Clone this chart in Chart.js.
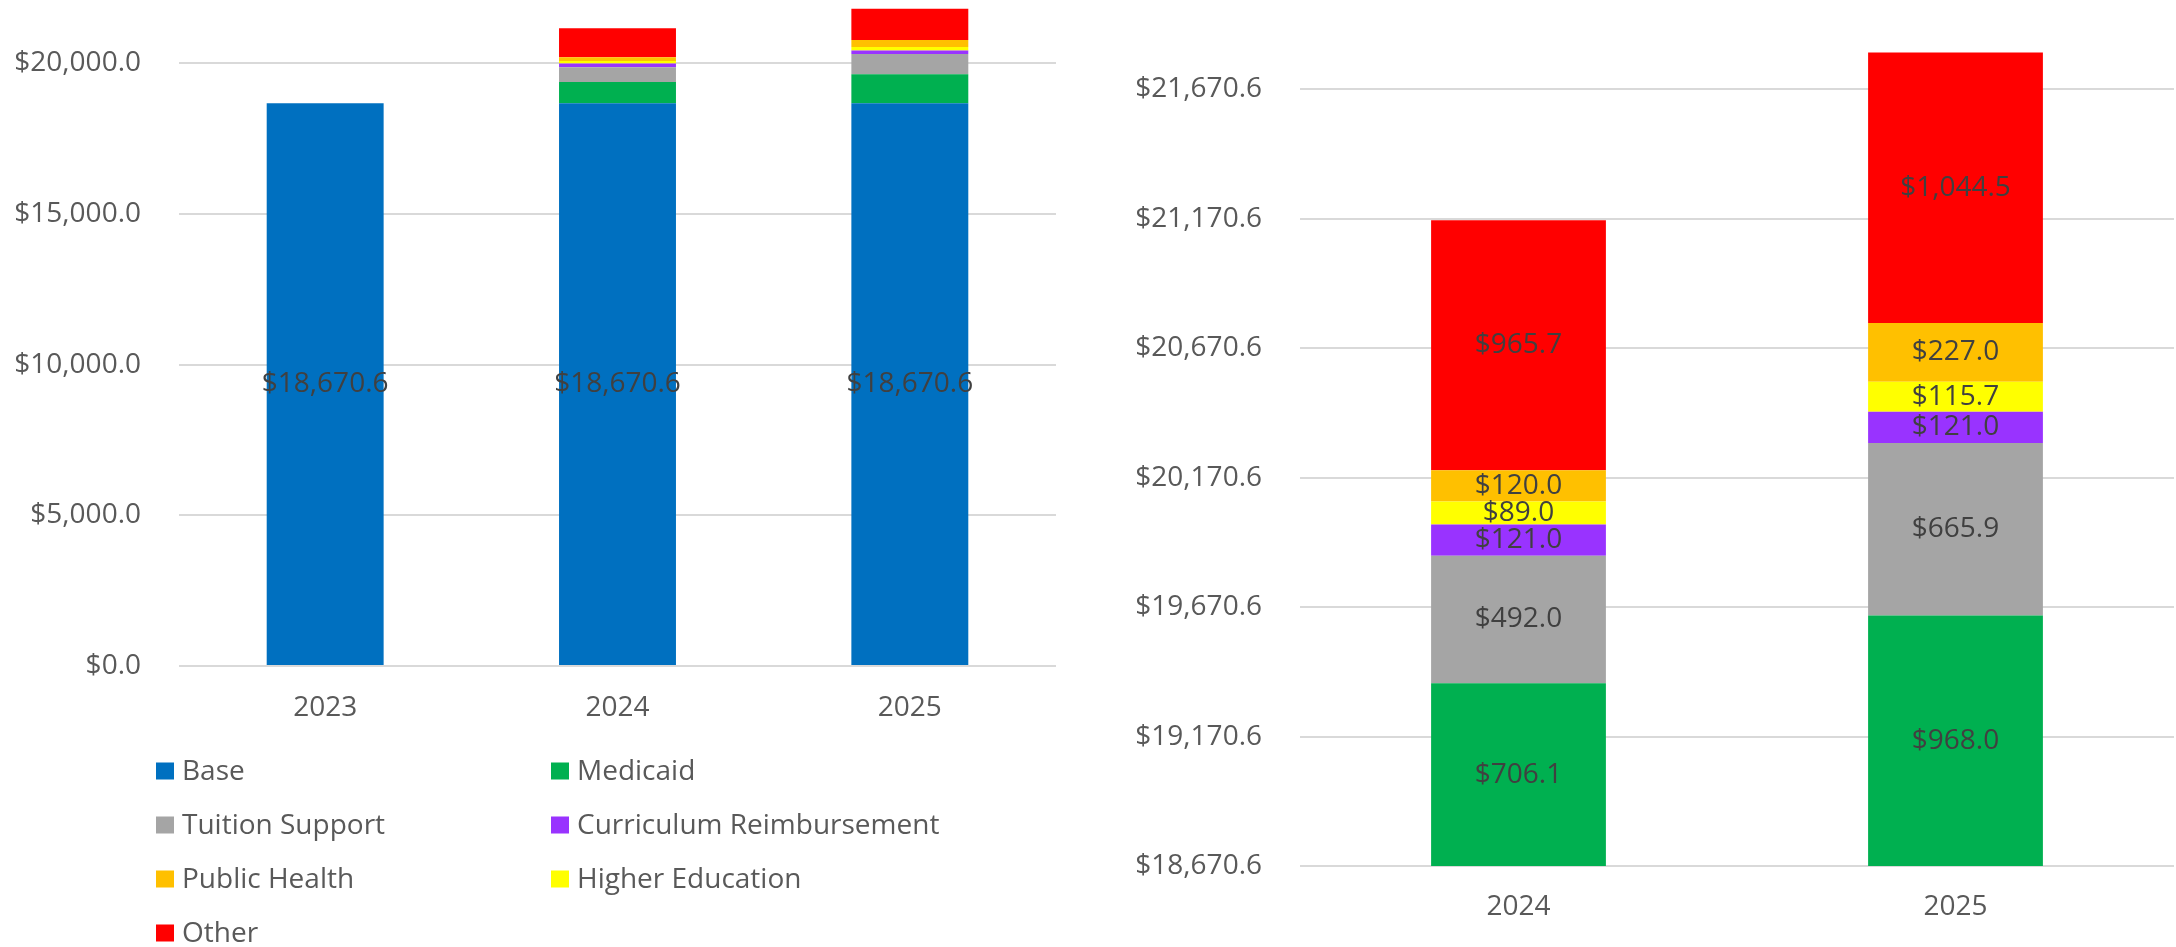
<!DOCTYPE html>
<html><head><meta charset="utf-8">
<script src="https://cdn.jsdelivr.net/npm/chart.js@4/dist/chart.umd.min.js"></script>
<style>
html,body{margin:0;padding:0;background:#fff;}
#wrap{position:relative;width:2176px;height:947px;overflow:hidden;}
#c1{position:absolute;left:0;top:0;}
#c2{position:absolute;left:1088px;top:0;}
</style></head><body>
<div id="wrap">
<canvas id="c1" width="1088" height="947"></canvas>
<canvas id="c2" width="1088" height="947"></canvas>
</div>
<script>
// ---- data ----
const years = ['2023', '2024', '2025'];
const base = [18670.6, 18670.6, 18670.6];
const medicaid = [0, 706.1, 968.0];
const tuitionSupport = [0, 492.0, 665.9];
const curriculumReimb = [0, 121.0, 121.0];
const higherEducation = [0, 89.0, 115.7];
const publicHealth = [0, 120.0, 227.0];
const other = [0, 965.7, 1044.5];
const leftTicks = [0, 5000, 10000, 15000, 20000];
const rightTicks = [18670.6, 19170.6, 19670.6, 20170.6, 20670.6, 21170.6, 21670.6];
const legendOrder = ['Base', 'Medicaid', 'Tuition Support', 'Curriculum Reimbursement', 'Public Health', 'Higher Education', 'Other'];

// ---- styles ----
const colors = {
  'Base': '#0070C0',
  'Medicaid': '#00B050',
  'Tuition Support': '#A5A5A5',
  'Curriculum Reimbursement': '#9933FF',
  'Higher Education': '#FFFF00',
  'Public Health': '#FFC000',
  'Other': '#FF0000'
};
const FONT = '"Open Sans", "Liberation Sans", sans-serif';
const FSIZE = 28;
const TEXT = '#595959';
const LABEL = '#404040';
const GRID = '#D9D9D9';

function fmt(v) {
  return '$' + v.toLocaleString('en-US', {minimumFractionDigits: 1, maximumFractionDigits: 1});
}

// stacking order bottom -> top
const stackSeries = [
  ['Base', base],
  ['Medicaid', medicaid],
  ['Tuition Support', tuitionSupport],
  ['Curriculum Reimbursement', curriculumReimb],
  ['Higher Education', higherEducation],
  ['Public Health', publicHealth],
  ['Other', other]
];

function makeDatasets(from, clip) {
  return stackSeries.map(([name, arr]) => {
    const d = {
      label: name,
      data: arr.slice(from),
      backgroundColor: colors[name],
      borderWidth: 0,
      barPercentage: 0.40,
      categoryPercentage: 1.0
    };
    if (clip) d.clip = 0;
    return d;
  });
}

const valueLabels = {
  id: 'valueLabels',
  afterDatasetsDraw(chart, args, opts) {
    const ctx = chart.ctx;
    ctx.save();
    ctx.font = FSIZE + 'px ' + FONT;
    ctx.fillStyle = LABEL;
    ctx.textAlign = 'center';
    ctx.textBaseline = 'middle';
    chart.data.datasets.forEach((ds, di) => {
      if (!opts.show.includes(ds.label)) return;
      const meta = chart.getDatasetMeta(di);
      meta.data.forEach((el, i) => {
        const v = ds.data[i];
        if (!v) return;
        const y = (el.y + el.base) / 2;
        ctx.fillText(fmt(v), el.x, y);
      });
    });
    ctx.restore();
  }
};

const gridLegend = {
  id: 'gridLegend',
  afterDraw(chart, args, opts) {
    if (!opts.enabled) return;
    const ctx = chart.ctx;
    ctx.save();
    ctx.font = FSIZE + 'px ' + FONT;
    ctx.textAlign = 'left';
    ctx.textBaseline = 'middle';
    const colBox = [156, 551];
    const rowY = [771, 825, 879, 933];
    legendOrder.forEach((name, k) => {
      const c = k % 2, r = Math.floor(k / 2);
      const y = rowY[r];
      ctx.fillStyle = colors[name];
      ctx.fillRect(colBox[c], y - 8.5, 18, 17);
      ctx.fillStyle = TEXT;
      ctx.fillText(name, colBox[c] + 26, y + 1);
    });
    ctx.restore();
  }
};

function yAxis(min, max, ticks, width) {
  return {
    stacked: true,
    min: min,
    max: max,
    border: {display: false},
    grid: {color: GRID, lineWidth: 2, drawTicks: false},
    ticks: {
      color: TEXT,
      font: {family: FONT, size: FSIZE},
      padding: 38,
      callback: (v) => fmt(v)
    },
    afterBuildTicks: (scale) => { scale.ticks = ticks.map(v => ({value: v})); },
    afterFit: (scale) => {
      scale.width = width;
      scale.paddingTop = 0;
      scale.paddingBottom = 0;
    }
  };
}

function xAxis(height, pad) {
  return {
    stacked: true,
    border: {display: false},
    grid: {display: false, drawTicks: false},
    ticks: {color: TEXT, font: {family: FONT, size: FSIZE}, padding: pad},
    afterFit: (scale) => { scale.height = height; }
  };
}

Chart.defaults.font.family = FONT;

new Chart(document.getElementById('c1'), {
  type: 'bar',
  data: {labels: years, datasets: makeDatasets(0, false)},
  options: {
    responsive: false,
    animation: false,
    events: [],
    layout: {padding: {top: 3, right: 32, left: 0, bottom: 0}},
    scales: {
      x: xAxis(281, 25),
      y: yAxis(0, 22000, leftTicks, 179)
    },
    plugins: {
      legend: {display: false},
      tooltip: {enabled: false},
      valueLabels: {show: ['Base']},
      gridLegend: {enabled: true}
    }
  },
  plugins: [valueLabels, gridLegend]
});

new Chart(document.getElementById('c2'), {
  type: 'bar',
  data: {labels: years.slice(1), datasets: makeDatasets(1, true)},
  options: {
    responsive: false,
    animation: false,
    events: [],
    layout: {padding: {top: 4, right: 2, left: 0, bottom: 0}},
    scales: {
      x: xAxis(81, 24),
      y: yAxis(18670.6, 22000, rightTicks, 212)
    },
    plugins: {
      legend: {display: false},
      tooltip: {enabled: false},
      valueLabels: {show: ['Medicaid', 'Tuition Support', 'Curriculum Reimbursement', 'Higher Education', 'Public Health', 'Other']},
      gridLegend: {enabled: false}
    }
  },
  plugins: [valueLabels, gridLegend]
});
</script>
</body></html>
